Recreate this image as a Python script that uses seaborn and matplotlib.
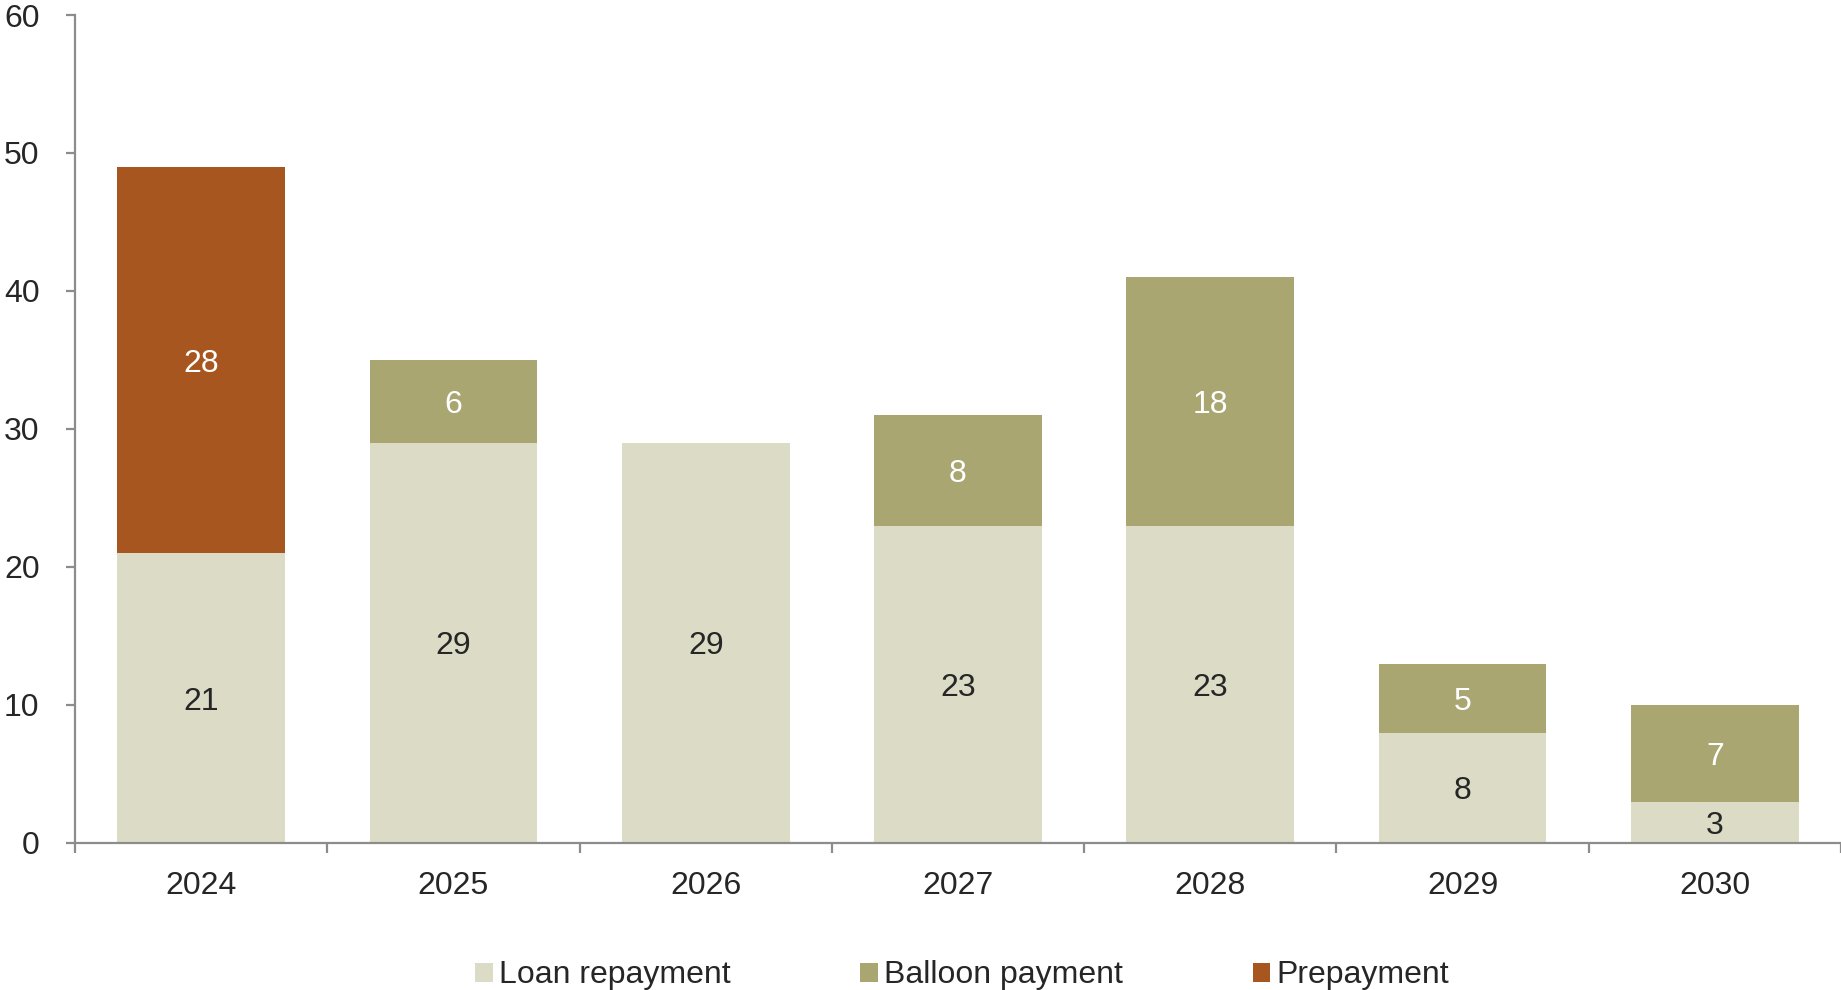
import matplotlib
matplotlib.use("Agg")
import matplotlib.pyplot as plt
from matplotlib.patches import Patch
import seaborn as sns
import numpy as np
import pandas as pd

years = ["2024", "2025", "2026", "2027", "2028", "2029", "2030"]
loan_repayment = [21, 29, 29, 23, 23, 8, 3]
balloon_payment = [0, 6, 0, 8, 18, 5, 7]
prepayment = [28, 0, 0, 0, 0, 0, 0]
series_names = ["Loan repayment", "Balloon payment", "Prepayment"]
colors = ["#dcdcc6", "#a9a672", "#a8561f"]
label_colors = ["#262626", "white", "white"]

sns.set_theme(style="white")
plt.rcParams["font.family"] = ["Liberation Sans", "DejaVu Sans"]

fig = plt.figure(figsize=(18.41, 9.9), dpi=100)
ax = fig.add_axes([75 / 1841, 147 / 990, 1 - 75 / 1841, (843 - 15) / 990])

df = pd.DataFrame({"year": years, "loan": loan_repayment,
                   "balloon": balloon_payment, "prepay": prepayment})
df["c1"] = df["loan"]
df["c2"] = df["loan"] + df["balloon"]
df["c3"] = df["c2"] + df["prepay"]

# draw cumulative totals back-to-front to create stacks
for col, c in zip(["c3", "c2", "c1"], colors[::-1]):
    sns.barplot(data=df, x="year", y=col, color=c, width=0.665,
                saturation=1, ax=ax, errorbar=None, linewidth=0)

# segment labels
series = [loan_repayment, balloon_payment, prepayment]
bottoms = np.zeros(len(years))
for vals, lc in zip(series, label_colors):
    vals = np.array(vals, dtype=float)
    for i, v in enumerate(vals):
        if v > 0:
            ax.text(i, bottoms[i] + v / 2, f"{int(v)}", ha="center",
                    va="center_baseline", fontsize=23, color=lc)
    bottoms += vals

ax.set_ylim(0, 60)
ax.set_xlim(-0.5, 6.5)
ax.set_yticks(range(0, 61, 10))
ax.set_xlabel("")
ax.set_ylabel("")

spine_c = "#8c8c8c"
for s in ["top", "right"]:
    ax.spines[s].set_visible(False)
for s in ["left", "bottom"]:
    ax.spines[s].set_color(spine_c)
    ax.spines[s].set_linewidth(1.6)

ax.tick_params(axis="y", which="major", direction="out", length=6.5, width=1.6,
               color=spine_c, labelsize=23, labelcolor="#262626", pad=19, left=True)
ax.set_xticks(np.arange(len(years)))
ax.set_xticklabels(years)
ax.set_xticks(np.arange(-0.5, len(years), 1), minor=True)
ax.tick_params(axis="x", which="major", length=0, labelsize=23, labelcolor="#262626", pad=20)
ax.tick_params(axis="x", which="minor", direction="out", length=7, width=1.6,
               color=spine_c, bottom=True)
ax.grid(False)

handles = [Patch(facecolor=c, edgecolor="none", label=n) for c, n in zip(colors, series_names)]
fig.legend(handles=handles, loc="center", bbox_to_anchor=(0.5227, 14.5 / 990), ncol=3,
           frameon=False, fontsize=23, handlelength=0.55, handleheight=0.55,
           handletextpad=0.2, columnspacing=4.05, labelcolor="#262626")

fig.savefig("out.png", dpi=100)
